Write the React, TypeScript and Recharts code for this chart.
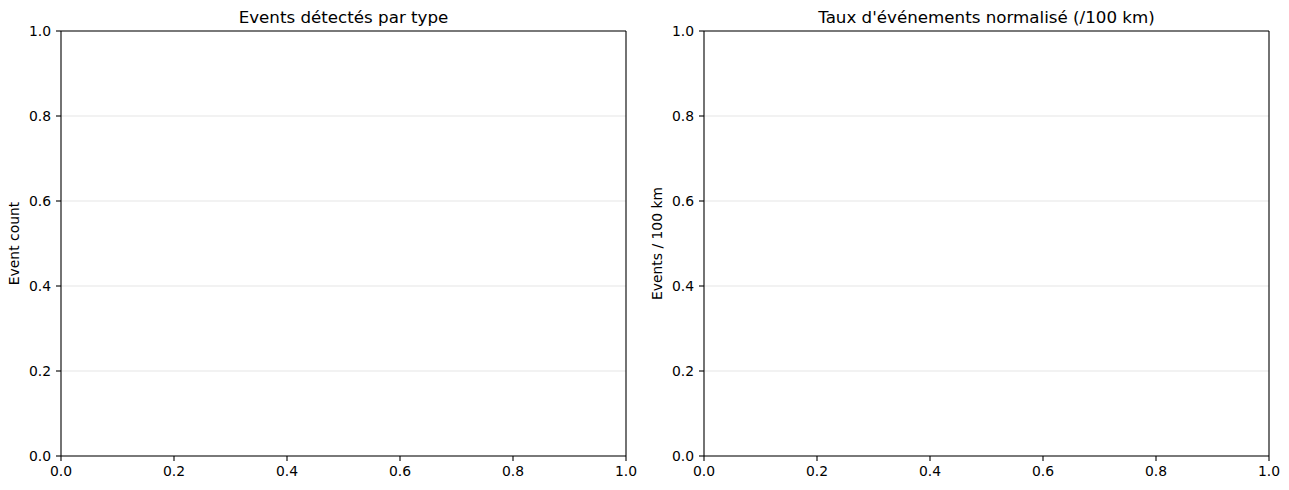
import React from "react";
import { LineChart, Line, XAxis, YAxis, CartesianGrid, Label, ReferenceLine } from "recharts";

// Data (the reference panels are empty: no events plotted)
const eventTypes: string[] = [];
const eventCounts: number[] = [];
const eventRates: number[] = [];
const xTicks = [0, 0.2, 0.4, 0.6, 0.8, 1.0];
const yTicks = [0, 0.2, 0.4, 0.6, 0.8, 1.0];
const panelTitles = ["Events détectés par type", "Taux d'événements normalisé (/100 km)"];
const yLabels = ["Event count", "Events / 100 km"];

const FONT = "'DejaVu Sans', sans-serif";
const tickStyle = { fontSize: 13.9, fill: "#000", fontFamily: FONT };
const fmt = (v: number) => v.toFixed(1);

type PanelProps = {
  data: { x: number; y: number }[];
  title: string;
  yLabel: string;
  width: number;
  yAxisWidth: number;
  rightMargin: number;
  yLabelX: number;
};

function Panel({ data, title, yLabel, width, yAxisWidth, rightMargin, yLabelX }: PanelProps) {
  const height = 490;
  const plotLeft = yAxisWidth;
  const plotRight = width - rightMargin;
  const cx = (plotLeft + plotRight) / 2;
  const cy = (31 + 456) / 2;
  return (
    <LineChart
      width={width}
      height={height}
      data={data}
      margin={{ top: 31, right: rightMargin, bottom: 0, left: 0 }}
    >
      <CartesianGrid
        xAxisId="bottom"
        yAxisId="left"
        vertical={false}
        horizontalValues={yTicks}
        stroke="#e6e6e6"
        strokeWidth={1.1}
      />
      <XAxis
        xAxisId="bottom"
        type="number"
        dataKey="x"
        domain={[0, 1]}
        ticks={xTicks}
        tickFormatter={fmt}
        height={34}
        tick={tickStyle}
        tickSize={5}
        tickMargin={5}
        axisLine={{ stroke: "#000", strokeWidth: 1.1 }}
        tickLine={{ stroke: "#000", strokeWidth: 1.1 }}
        interval={0}
        allowDataOverflow
      />
      <YAxis
        yAxisId="left"
        type="number"
        domain={[0, 1]}
        ticks={yTicks}
        tickFormatter={fmt}
        width={yAxisWidth}
        tick={tickStyle}
        tickSize={5}
        tickMargin={5}
        axisLine={{ stroke: "#000", strokeWidth: 1.1 }}
        tickLine={{ stroke: "#000", strokeWidth: 1.1 }}
        interval={0}
        allowDataOverflow
      >
        <Label
          content={() => (
            <text
              x={yLabelX}
              y={cy}
              transform={`rotate(-90 ${yLabelX} ${cy})`}
              textAnchor="middle"
              fontFamily={FONT}
              fontSize={13.9}
              fill="#000"
            >
              {yLabel}
            </text>
          )}
        />
      </YAxis>
      <ReferenceLine
        xAxisId="bottom"
        yAxisId="left"
        y={1}
        stroke="#000"
        strokeWidth={1.1}
        ifOverflow="visible"
        label={
          <Label
            content={() => (
              <text x={cx} y={23} textAnchor="middle" fontFamily={FONT} fontSize={16.7} fill="#000">
                {title}
              </text>
            )}
          />
        }
      />
      <ReferenceLine
        xAxisId="bottom"
        yAxisId="left"
        x={1}
        stroke="#000"
        strokeWidth={1.1}
        ifOverflow="visible"
      />
      <Line
        xAxisId="bottom"
        yAxisId="left"
        dataKey="y"
        stroke="#1f77b4"
        dot={false}
        isAnimationActive={false}
      />
    </LineChart>
  );
}

export default function App() {
  const countData = eventTypes.map((_, i) => ({ x: i, y: eventCounts[i] }));
  const rateData = eventTypes.map((_, i) => ({ x: i, y: eventRates[i] }));
  return (
    <div style={{ position: "absolute", left: 0, top: 0, width: 1289, height: 490, background: "#fff" }}>
      <div style={{ position: "absolute", left: 0, top: 0 }}>
        <Panel
          data={countData}
          title={panelTitles[0]}
          yLabel={yLabels[0]}
          width={640}
          yAxisWidth={61}
          rightMargin={14}
          yLabelX={19}
        />
      </div>
      <div style={{ position: "absolute", left: 640, top: 0 }}>
        <Panel
          data={rateData}
          title={panelTitles[1]}
          yLabel={yLabels[1]}
          width={649}
          yAxisWidth={64}
          rightMargin={20}
          yLabelX={22}
        />
      </div>
    </div>
  );
}
